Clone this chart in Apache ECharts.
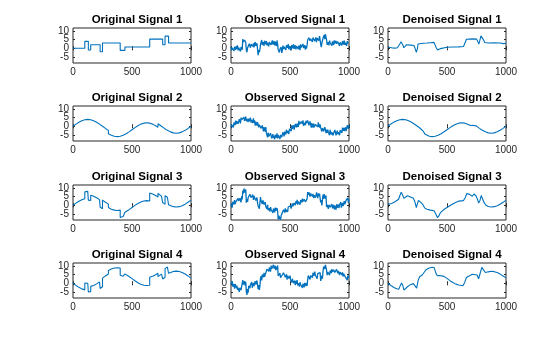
<!DOCTYPE html>
<html>
<head>
<meta charset="utf-8">
<script src="https://cdn.jsdelivr.net/npm/echarts@6/dist/echarts.min.js"></script>
<style>
  html, body { margin: 0; padding: 0; background: #ffffff; }
  #chart { width: 560px; height: 337px; }
</style>
</head>
<body>
<div id="chart"></div>
<script>
// ---- axis ticks ----
const xTickValues = [0, 500, 1000];
const yTickValues = [-5, 0, 5, 10];
const yLimits = [-8.5, 11.7];
const xLimits = [0, 1000];

// ---- panel titles (row by row) ----
const panelTitles = [
  'Original Signal 1', 'Observed Signal 1', 'Denoised Signal 1',
  'Original Signal 2', 'Observed Signal 2', 'Denoised Signal 2',
  'Original Signal 3', 'Observed Signal 3', 'Denoised Signal 3',
  'Original Signal 4', 'Observed Signal 4', 'Denoised Signal 4'
];

// ---- clean signals: [sample, value] pairs, repeated sample = jump ----
const original1 = [[0,0],[100,0],[100,4],[130,4],[130,-1],[150,-1],[150,2],[230,2],[230,-2],[250,-2],[250,3],[400,3],[400,-1.2],[440,-1.2],[440,0.7],[650,0.7],[650,5.3],[760,5.3],[760,2],[780,2],[780,7],[810,7],[810,3],[1000,3]];
const original2 = [[0,0],[25,1.24],[50,2.35],[75,3.24],[100,3.8],[125,4],[150,3.8],[175,3.24],[200,2.35],[225,1.24],[250,0],[275,-1.24],[300,-2.35],[300,-4.35],[325,-5.24],[350,-5.8],[375,-6],[400,-5.8],[425,-5.24],[450,-4.35],[475,-3.24],[500,-2],[525,-0.76],[550,0.35],[575,1.24],[600,1.8],[625,2],[650,1.8],[675,1.24],[700,0.35],[720,-0.53],[720,1.47],[750,0],[775,-1.24],[800,-2.35],[825,-3.24],[850,-3.8],[875,-4],[900,-3.8],[925,-3.24],[950,-2.35],[975,-1.24],[1000,0]];
const original3 = [[0,0],[25,1.24],[50,2.35],[75,3.24],[100,3.8],[100,7.8],[125,8],[130,7.99],[130,2.99],[150,2.8],[150,5.8],[175,5.24],[200,4.35],[225,3.24],[230,3],[230,-1],[250,-2],[250,3],[275,1.76],[300,0.65],[300,-1.35],[325,-2.24],[350,-2.8],[375,-3],[400,-2.8],[400,-7],[425,-6.44],[440,-5.94],[440,-4.04],[450,-3.65],[475,-2.54],[500,-1.3],[525,-0.06],[550,1.05],[575,1.94],[600,2.5],[625,2.7],[650,2.5],[650,7.1],[675,6.54],[700,5.65],[720,4.77],[720,6.77],[750,5.3],[760,4.8],[760,1.5],[775,0.76],[780,0.53],[780,5.53],[800,4.65],[810,4.26],[810,0.26],[825,-0.24],[850,-0.8],[875,-1],[900,-0.8],[925,-0.24],[950,0.65],[975,1.76],[1000,3]];
const original4 = [[0,0],[25,-1.24],[50,-2.35],[75,-3.24],[100,-3.8],[100,0.2],[125,0],[130,0.01],[130,-4.99],[150,-4.8],[150,-1.8],[175,-1.24],[200,-0.35],[225,0.76],[230,1],[230,-3],[250,-2],[250,3],[275,4.24],[300,5.35],[300,7.35],[325,8.24],[350,8.8],[375,9],[400,8.8],[400,4.6],[425,4.04],[440,3.54],[440,5.44],[450,5.05],[475,3.94],[500,2.7],[525,1.46],[550,0.35],[575,-0.54],[600,-1.1],[625,-1.3],[650,-1.1],[650,3.5],[675,4.06],[700,4.95],[720,5.83],[720,3.83],[750,5.3],[760,5.8],[760,2.5],[775,3.24],[780,3.47],[780,8.47],[800,9.35],[810,9.74],[810,5.74],[825,6.24],[850,6.8],[875,7],[900,6.8],[925,6.24],[950,5.35],[975,4.24],[1000,3]];

// ---- noisy observations, one value every OBS_STEP samples from 0 to 1000 ----
const OBS_STEP = 5;
const observed1 = [0.6,-1.1,0.3,1.4,-0.5,-1.6,0.9,0.1,-0.8,1.2,
  -0.3,1.7,-1.2,0.4,-0.6,1.0,-1.8,0.7,0.2,-0.9,
  5.3,3.6,2.6,4.8,5.9,3.3,-1.0,-2.3,0.1,-0.5,
  1.0,2.6,3.5,0.3,2.3,1.8,3.2,1.1,2.8,0.5,
  2.4,3.6,1.4,0.8,2.9,2.2,-4.0,-1.0,-2.3,-0.6,
  2.2,3.1,4.8,1.9,2.6,3.7,1.4,4.3,3.5,2.3,
  4.1,1.7,3.2,3.9,1.1,3.6,4.4,2.5,2.0,3.3,
  4.6,2.1,2.8,4.2,1.6,3.8,3.0,1.3,4.5,2.4,
  -0.8,-0.2,-2.4,-0.5,-1.5,0.7,-2.7,-1.3,1.6,-0.4,
  0.9,2.0,-0.1,-0.9,1.8,1.2,0.3,2.4,-0.6,1.3,
  0.5,1.5,-1.2,1.9,1.0,0.0,2.2,-0.3,0.8,1.7,
  -0.7,1.3,2.0,0.2,-0.5,1.6,1.1,-1.1,2.3,0.4,
  1.4,-0.4,2.5,0.1,0.7,1.8,-0.8,1.2,-0.2,2.1,
  4.9,4.0,6.1,6.8,4.3,5.5,4.6,6.5,3.7,6.2,
  5.6,6.9,4.1,5.1,6.3,3.5,5.9,6.6,4.8,4.4,
  7.0,5.0,2.4,0.6,2.9,3.2,5.9,7.0,7.7,5.3,
  8.1,6.4,4.9,2.0,2.6,3.5,1.7,4.4,3.2,2.2,
  3.6,1.5,4.0,3.3,1.9,4.6,2.8,2.1,4.3,2.6,
  1.8,3.8,3.1,4.5,1.3,3.4,4.0,2.4,1.7,4.2,
  3.5,2.2,4.4,2.0,3.2,3.9,1.4,4.1,2.7,3.7,
  2.5];
const observed2 = [-0.5,
  1.0,0.2,1.9,-0.6,2.1,1.7,0.7,3.3,1.3,2.9,
  3.7,1.4,2.3,4.1,3.6,1.7,5.0,3.7,4.5,2.6,
  3.5,5.2,3.1,3.8,5.6,2.9,4.3,4.9,2.4,4.4,
  2.9,3.8,4.9,2.1,3.7,2.7,1.9,4.6,1.9,3.5,
  0.4,2.6,1.7,0.4,2.4,1.9,-0.6,0.9,0.0,1.7,
  -1.2,-1.0,0.5,-0.4,-3.0,-0.5,-1.9,-3.1,-0.5,-4.1,
  -3.6,-6.3,-3.7,-5.8,-5.0,-6.4,-4.0,-4.8,-7.0,-6.2,
  -4.5,-6.8,-5.5,-7.5,-4.9,-6.0,-6.6,-4.1,-7.0,-5.1,
  -6.0,-4.0,-7.3,-5.0,-4.3,-6.3,-5.4,-3.4,-3.9,-5.8,
  -3.1,-3.8,-4.7,-2.0,-3.9,-2.7,-1.6,-4.4,-1.5,-2.2,
  -1.1,-2.8,0.5,-1.4,-0.3,0.6,-1.9,-0.9,1.4,0.6,
  -0.6,1.6,0.8,-0.4,3.1,1.1,2.2,0.4,2.7,2.2,
  1.3,3.4,0.3,2.0,2.8,0.6,3.2,1.7,1.0,3.4,
  2.0,0.6,1.0,2.8,1.8,-0.8,1.8,0.9,-0.8,1.5,
  -0.6,0.4,1.0,-0.1,1.9,0.6,-0.3,2.3,0.4,-0.8,
  1.1,-0.8,0.2,-3.0,-1.0,-0.6,-2.9,-2.5,-0.5,-2.0,
  -4.0,-1.9,-3.8,-1.9,-3.4,-3.1,-5.2,-2.1,-3.1,-4.8,
  -3.4,-2.8,-5.3,-4.0,-4.7,-2.1,-3.2,-5.3,-4.3,-2.5,
  -4.6,-3.4,-2.8,-5.2,-2.2,-3.7,-2.5,-3.9,-0.8,-2.7,
  -0.9,-2.7,-1.6,-0.6,-2.8,-1.5,0.6,-0.2,-1.4,0.6];
const observed3 = [-0.2,1.1,-1.4,2.0,1.3,0.5,3.0,0.7,2.0,3.1,
  1.0,3.1,4.0,2.4,1.9,4.1,3.8,1.7,5.2,3.4,
  8.5,6.8,9.7,7.4,8.0,9.1,1.5,3.5,2.0,4.3,
  5.4,4.4,6.4,7.0,4.4,5.4,4.4,6.1,3.1,5.4,
  4.7,5.7,2.7,3.5,4.5,1.4,-0.4,0.1,-2.0,-2.6,
  4.7,2.4,2.9,0.8,2.9,3.0,0.4,1.3,1.8,-0.8,
  -0.3,-2.1,0.2,-2.9,-2.5,-1.7,-3.7,-1.1,-2.4,-3.5,
  -2.2,-4.4,-1.9,-2.7,-4.1,-1.4,-3.2,-3.9,-1.6,-3.3,
  -8.2,-6.1,-6.7,-5.2,-8.3,-6.0,-5.3,-6.7,-5.3,-2.6,
  -3.2,-4.2,-1.8,-4.0,-2.6,-1.6,-3.9,-1.0,-2.1,-0.9,
  -1.8,
  -0.4,-1.9,-0.2,1.1,-0.6,-1.4,1.3,0.7,0.0,2.3,
  0.9,3.1,0.4,2.2,1.3,3.1,0.4,3.0,2.6,1.6,
  3.9,2.2,1.3,3.5,4.6,2.0,2.7,1.3,3.7,7.6,
  6.0,7.5,8.3,5.0,6.8,6.2,7.4,5.1,6.6,4.2,
  5.8,6.8,4.4,5.6,7.4,6.5,4.1,6.8,5.3,6.7,
  4.2,1.6,3.0,-0.1,0.4,6.2,3.7,6.4,5.4,3.9,
  5.6,-1.0,0.3,0.8,-2.1,0.2,0.9,-1.1,-1.7,-0.5,
  0.7,-1.8,-1.2,0.2,-2.4,-0.2,-1.0,-2.6,0.6,-1.4,
  -0.3,0.4,-1.7,0.3,-0.5,1.8,-1.4,0.2,1.4,-0.5,
  1.1,2.4,0.5,-0.1,2.9,2.5,1.8,4.2,1.4,3.6];
const observed4 = [-0.8,-0.2,1.3,-1.9,-1.4,-0.5,-3.1,-0.4,-1.4,-2.8,
  -1.3,-3.8,-2.5,-2.0,-5.0,-2.6,-2.0,-4.0,-4.6,-3.4,
  1.8,-0.8,-0.1,1.2,-1.4,0.8,-5.0,-6.7,-3.4,-5.5,
  -1.4,-0.7,-2.8,-0.8,-1.7,0.7,-2.6,-1.0,0.2,-1.6,
  -0.2,1.2,-0.7,-1.3,1.6,1.3,-3.4,-1.1,-3.8,-1.7,
  2.8,4.1,1.6,5.0,4.3,3.5,6.0,3.7,5.0,6.1,
  6.0,8.1,9.0,7.4,6.9,9.1,8.8,6.7,10.2,8.4,
  9.5,7.8,10.7,8.4,9.0,10.1,7.5,9.5,8.0,10.3,
  4.2,3.2,5.2,5.8,3.2,4.2,3.2,4.9,3.8,6.1,
  5.4,6.4,3.4,4.2,5.2,2.1,4.3,4.8,2.7,2.1,
  4.4,2.1,2.6,0.5,2.6,2.7,0.1,1.0,1.5,-1.1,
  1.4,-0.4,1.9,-1.2,-0.8,0.0,-2.0,0.6,-0.7,-1.8,
  -0.5,-2.7,-0.2,-1.0,-2.4,0.3,-1.5,-2.2,0.1,-1.6,
  2.3,4.4,3.8,5.3,2.2,4.5,5.2,3.8,3.3,6.0,
  5.4,4.4,6.8,4.6,4.0,5.0,2.7,5.6,4.5,5.7,
  4.8,
  6.2,1.4,3.1,4.4,2.7,6.9,9.6,9.0,8.3,10.6,
  9.2,7.4,4.7,6.5,5.6,7.4,4.7,7.3,6.9,5.9,
  8.2,6.5,5.6,7.8,8.9,6.3,7.0,5.6,8.0,7.3,
  5.7,7.2,8.0,4.7,6.5,5.9,7.1,4.8,6.3,3.9,
  5.5,6.5,4.1,3.3,5.1,4.2,1.8,4.5,3.0,4.4];

// ---- denoised estimates: [sample, value] pairs ----
const denoised1 = [[0,0.6],[20,0.4],[40,0.2],[60,0.1],[80,0.3],[90,0.8],[100,2.5],[110,3.8],[118,3.5],[125,2.0],[135,0.3],[145,1.0],[155,2.0],[170,2.3],[190,1.8],[205,2.2],[220,1.6],[232,-0.5],[240,-2.3],[248,-0.5],[255,2.5],[270,2.8],[300,2.9],[330,3.0],[360,3.2],[390,3.4],[400,2.5],[410,0.2],[420,-1.0],[432,-1.2],[445,-0.2],[460,0.5],[500,0.6],[550,0.7],[600,0.8],[640,1.0],[652,3.0],[665,5.2],[680,5.5],[720,5.4],[750,5.3],[760,4.0],[770,2.4],[778,3.5],[788,7.2],[798,7.0],[808,5.0],[820,3.3],[850,3.0],[900,3.1],[950,3.0],[980,2.7],[1000,2.9]];
const denoised2 = [[0,0.2],[25,1.3],[50,2.4],[75,3.2],[100,3.8],[125,4.0],[150,3.8],[175,3.2],[200,2.3],[225,1.2],[250,0.0],[270,-1.0],[285,-1.8],[300,-3.0],[312,-4.4],[325,-5.2],[350,-5.8],[375,-6.0],[400,-5.8],[425,-5.2],[450,-4.3],[475,-3.2],[500,-2.0],[525,-0.8],[550,0.3],[575,1.2],[600,1.8],[625,2.0],[650,1.8],[675,1.2],[700,0.4],[712,-0.2],[722,0.6],[730,1.2],[750,0.1],[775,-1.2],[800,-2.3],[825,-3.2],[850,-3.8],[875,-4.0],[900,-3.8],[925,-3.2],[950,-2.3],[975,-1.2],[1000,0.1]];
const denoised3 = [[0,0.5],[30,1.0],[60,2.0],[90,3.5],[100,5.5],[112,7.5],[122,6.2],[135,4.0],[150,5.0],[165,5.5],[190,4.8],[215,4.0],[228,2.0],[240,-1.3],[250,1.0],[258,2.8],[275,1.8],[295,0.5],[310,-1.5],[330,-2.3],[360,-2.8],[390,-3.2],[405,-5.0],[420,-7.2],[432,-6.0],[445,-4.2],[470,-2.6],[500,-1.3],[530,0.0],[560,1.2],[600,2.4],[640,2.7],[655,4.5],[668,6.8],[690,6.3],[715,5.2],[728,6.5],[745,5.5],[758,3.5],[768,1.3],[778,2.5],[790,5.6],[802,4.8],[815,1.5],[830,0.0],[850,-0.7],[875,-1.0],[900,-0.8],[925,-0.3],[950,0.6],[975,1.7],[1000,2.9]];
const denoised4 = [[0,0],[25,-1.3],[50,-2.4],[75,-3.2],[92,-3.4],[105,-1.2],[115,0.2],[125,-1.2],[135,-4.0],[148,-3.8],[165,-2.0],[190,-0.8],[215,-0.2],[230,0.8],[243,-2.8],[255,1.5],[268,3.8],[290,4.8],[305,6.2],[325,8.0],[350,8.8],[375,9.2],[392,9.0],[405,6.0],[418,4.3],[435,4.5],[450,5.0],[475,4.0],[500,2.8],[525,1.5],[550,0.4],[575,-0.5],[600,-1.0],[635,-1.4],[650,0.5],[665,3.3],[690,4.3],[715,5.2],[730,4.2],[755,4.8],[768,2.6],[780,5.5],[795,9.2],[810,8.2],[825,6.2],[850,6.6],[875,6.9],[900,6.7],[925,6.2],[950,5.3],[975,4.2],[1000,3.1]];

// ---- layout ----
const colLeft = [73, 231, 388];
const rowTop = [28, 106, 185, 263];
const cellW = 118;
const cellH = 35;
const FONT = '"Liberation Sans", Arial, Helvetica, sans-serif';
const INK = '#262626';
const LINE = '#0072BD';

const toPairs = vals => vals.map((v, i) => [i * OBS_STEP, v]);
const panelData = [
  [original1, toPairs(observed1), denoised1],
  [original2, toPairs(observed2), denoised2],
  [original3, toPairs(observed3), denoised3],
  [original4, toPairs(observed4), denoised4]
];

// the y labels sit closer than their own height, so alternate ticks go on two
// stacked left axes to keep every label visible
const yTickSets = [
  yTickValues.filter((_, i) => i % 2 === 0),
  yTickValues.filter((_, i) => i % 2 === 1)
];

const grids = [], xAxes = [], yAxes = [], series = [], titles = [];
const tick = { inside: true, length: 2, lineStyle: { color: INK, width: 1 } };
const plainNumber = v => String(v);
const labelStyle = { formatter: plainNumber, fontFamily: FONT, fontSize: 10, color: INK, margin: 4 };

let k = 0;
for (let r = 0; r < 4; r++) {
  for (let c = 0; c < 3; c++) {
    grids.push({
      left: colLeft[c], top: rowTop[r], width: cellW, height: cellH,
      show: true, borderColor: INK, borderWidth: 1, backgroundColor: '#ffffff'
    });
    titles.push({
      text: panelTitles[k],
      left: colLeft[c] + cellW / 2,
      top: rowTop[r] - 19,
      textAlign: 'center',
      textStyle: { fontFamily: FONT, fontSize: 11.5, fontWeight: 'bold', color: '#000000' }
    });
    const xMain = xAxes.length;
    xAxes.push({
      gridIndex: k, type: 'value', min: xLimits[0], max: xLimits[1], position: 'bottom',
      axisLine: { show: false }, splitLine: { show: false },
      axisTick: Object.assign({ customValues: xTickValues }, tick),
      axisLabel: Object.assign({ customValues: xTickValues }, labelStyle)
    });
    xAxes.push({
      gridIndex: k, type: 'value', min: xLimits[0], max: xLimits[1], position: 'top',
      axisLine: { show: false }, splitLine: { show: false },
      axisTick: Object.assign({ customValues: xTickValues }, tick),
      axisLabel: { show: false }
    });
    const yMain = yAxes.length;
    yTickSets.forEach(vals => {
      yAxes.push({
        gridIndex: k, type: 'value', min: yLimits[0], max: yLimits[1], position: 'left', offset: 0,
        axisLine: { show: false }, splitLine: { show: false },
        axisTick: Object.assign({ customValues: vals }, tick),
        axisLabel: Object.assign({ customValues: vals }, labelStyle)
      });
    });
    yAxes.push({
      gridIndex: k, type: 'value', min: yLimits[0], max: yLimits[1], position: 'right',
      axisLine: { show: false }, splitLine: { show: false },
      axisTick: Object.assign({ customValues: yTickValues }, tick),
      axisLabel: { show: false }
    });
    series.push({
      type: 'line',
      xAxisIndex: xMain, yAxisIndex: yMain,
      data: panelData[r][c],
      showSymbol: false, silent: true, clip: true,
      lineStyle: { color: LINE, width: c === 1 ? 1.3 : 1.1 }
    });
    k++;
  }
}

const chart = echarts.init(document.getElementById('chart'), null, { renderer: 'canvas' });
chart.setOption({
  animation: false,
  backgroundColor: '#ffffff',
  title: titles,
  grid: grids,
  xAxis: xAxes,
  yAxis: yAxes,
  series: series
});
</script>
</body>
</html>
